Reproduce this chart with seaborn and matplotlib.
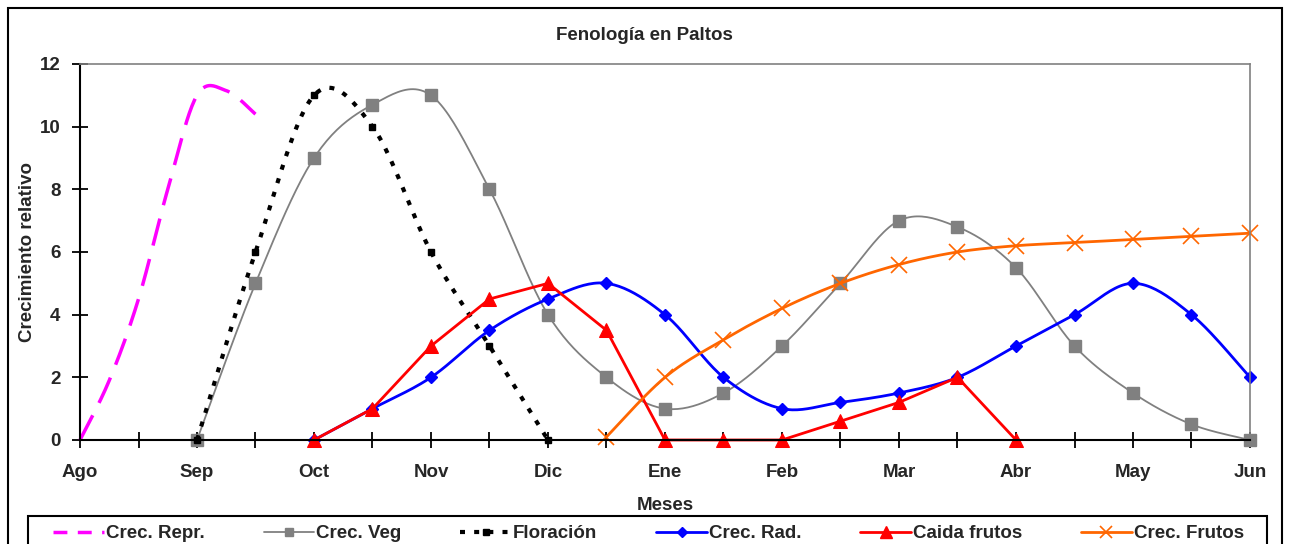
import numpy as np
import matplotlib
matplotlib.use("Agg")
import matplotlib.pyplot as plt
from matplotlib.lines import Line2D
from matplotlib.patches import Rectangle
import seaborn as sns

# month labels (x positions 0..10, half-month steps for the data)
meses = ["Ago", "Sep", "Oct", "Nov", "Dic", "Ene", "Feb", "Mar", "Abr", "May", "Jun"]

# data (x in months from Ago)
repr_x = [0, 0.25, 0.5, 0.75, 1.0, 1.25, 1.5]
repr_y = [0, 1.9, 4.5, 8.0, 11.0, 11.15, 10.4]

veg_x = [1, 1.5, 2, 2.5, 3, 3.5, 4, 4.5, 5, 5.5, 6, 6.5, 7, 7.5, 8, 8.5, 9, 9.5, 10]
veg_y = [0, 5, 9, 10.7, 11, 8, 4, 2, 1, 1.5, 3, 5, 7, 6.8, 5.5, 3, 1.5, 0.5, 0]

flor_x = [1, 1.5, 2, 2.5, 3, 3.5, 4]
flor_y = [0, 6, 11, 10, 6, 3, 0]

rad_x = [2, 2.5, 3, 3.5, 4, 4.5, 5, 5.5, 6, 6.5, 7, 7.5, 8, 8.5, 9, 9.5, 10]
rad_y = [0, 1, 2, 3.5, 4.5, 5, 4, 2, 1, 1.2, 1.5, 2, 3, 4, 5, 4, 2]

caida_x = [2, 2.5, 3, 3.5, 4, 4.5, 5, 5.5, 6, 6.5, 7, 7.5, 8]
caida_y = [0, 1, 3, 4.5, 5, 3.5, 0, 0, 0, 0.6, 1.2, 2, 0]

frutos_x = [4.5, 5, 5.5, 6, 6.5, 7, 7.5, 8, 8.5, 9, 9.5, 10]
frutos_y = [0.1, 2, 3.2, 4.2, 5, 5.6, 6, 6.2, 6.3, 6.4, 6.5, 6.6]


def smooth(x, y, n=24):
    # Excel-like smoothed line (Catmull-Rom as cubic Bezier)
    p = np.column_stack([x, y]).astype(float)
    out = [p[0]]
    for i in range(len(p) - 1):
        p0 = p[i - 1] if i > 0 else p[i]
        p1, p2 = p[i], p[i + 1]
        p3 = p[i + 2] if i + 2 < len(p) else p[i + 1]
        c1 = p1 + (p2 - p0) / 6
        c2 = p2 - (p3 - p1) / 6
        t = np.linspace(0, 1, n)[1:, None]
        seg = (1 - t) ** 3 * p1 + 3 * (1 - t) ** 2 * t * c1 + 3 * (1 - t) * t ** 2 * c2 + t ** 3 * p2
        out.extend(seg)
    out = np.array(out)
    return out[:, 0], out[:, 1]


sns.set_style("white")
plt.rcParams['font.family'] = ['Liberation Sans', 'DejaVu Sans']
plt.rcParams['font.weight'] = 'bold'
fs = 13.5

fig = plt.figure(figsize=(12.89, 5.44), dpi=100)
ax = fig.add_axes([80 / 1289, 104 / 544, 1170 / 1289, 376 / 544])

c_repr = '#FF00FF'
c_veg = '#808080'
c_flor = '#000000'
c_rad = '#0000FF'
c_caida = '#FF0000'
c_frutos = '#FF6600'

# Crec. Repr.
sx, sy = smooth(repr_x, repr_y)
sns.lineplot(x=sx, y=sy, ax=ax, color=c_repr, lw=2.5, sort=False, estimator=None, clip_on=False)
ax.lines[-1].set_dashes([8, 4])

# Crec. Veg
sx, sy = smooth(veg_x, veg_y)
sns.lineplot(x=sx, y=sy, ax=ax, color=c_veg, lw=1.3, sort=False, estimator=None, clip_on=False)
ax.plot(veg_x, veg_y, ls='none', marker='s', ms=8, color=c_veg, clip_on=False)

# Floración
sx, sy = smooth(flor_x, flor_y)
sns.lineplot(x=sx, y=sy, ax=ax, color=c_flor, lw=3, sort=False, estimator=None, clip_on=False)
ax.lines[-1].set_dashes([1.2, 2.2])
ax.plot(flor_x, flor_y, ls='none', marker='s', ms=5, color=c_flor, clip_on=False)

# Crec. Rad.
sx, sy = smooth(rad_x, rad_y)
sns.lineplot(x=sx, y=sy, ax=ax, color=c_rad, lw=2, sort=False, estimator=None, clip_on=False)
ax.plot(rad_x, rad_y, ls='none', marker='D', ms=6, color=c_rad, clip_on=False)

# Caida frutos (straight segments)
sns.lineplot(x=caida_x, y=caida_y, ax=ax, color=c_caida, lw=2, sort=False, estimator=None,
             marker='^', ms=10, mec=c_caida, clip_on=False)

# Crec. Frutos
sx, sy = smooth(frutos_x, frutos_y)
sns.lineplot(x=sx, y=sy, ax=ax, color=c_frutos, lw=2, sort=False, estimator=None, clip_on=False)
ax.plot(frutos_x, frutos_y, ls='none', marker='x', ms=11, mew=1.2, color=c_frutos, clip_on=False)

ax.set_xlim(0, 10)
ax.set_ylim(0, 12)
ticks_x = np.arange(0, 10.01, 0.5)
ax.set_xticks(ticks_x)
ax.set_xticklabels([meses[int(t)] if t == int(t) else "" for t in ticks_x])
ax.set_yticks(range(0, 13, 2))
ax.tick_params(axis='both', direction='inout', length=12, width=1.3, labelsize=fs,
               bottom=True, left=True, top=False, right=False, color='black')
ax.tick_params(axis='x', pad=11.5)
ax.tick_params(axis='y', pad=8)
for lbl in ax.get_xticklabels() + ax.get_yticklabels():
    lbl.set_fontweight('bold')

for s in ['left', 'bottom']:
    ax.spines[s].set_color('black')
    ax.spines[s].set_linewidth(1.5)
for s in ['top', 'right']:
    ax.spines[s].set_color('#808080')
    ax.spines[s].set_linewidth(1.2)

ax.set_ylabel("Crecimiento relativo", fontsize=fs, fontweight='bold', labelpad=3)
ax.set_xlabel("")
fig.text(665 / 1289, 1 - 505 / 544, "Meses", ha='center', va='center', fontsize=fs, fontweight='bold')
fig.text(644 / 1289, 1 - 36 / 544, "Fenología en Paltos", ha='center', va='center', fontsize=fs, fontweight='bold')

# legend
handles = [
    Line2D([], [], color=c_repr, lw=2.5, dashes=[4, 3]),
    Line2D([], [], color=c_veg, lw=1.3, marker='s', ms=6),
    Line2D([], [], color=c_flor, lw=3, dashes=[1.2, 2.2], marker='s', ms=4),
    Line2D([], [], color=c_rad, lw=2, marker='D', ms=5),
    Line2D([], [], color=c_caida, lw=2, marker='^', ms=8),
    Line2D([], [], color=c_frutos, lw=2, marker='x', ms=9, mew=1.2),
]
labels = ["Crec. Repr.", "Crec. Veg", "Floración", "Crec. Rad.", "Caida frutos", "Crec. Frutos"]
leg = fig.legend(handles, labels, ncol=6, loc='upper left',
                 bbox_to_anchor=(44 / 1289, 1 - 516 / 544, 1209 / 1289, 0), mode='expand',
                 frameon=False, handlelength=2.7, handletextpad=0.1,
                 borderpad=0.5, borderaxespad=0, prop={'size': fs, 'weight': 'bold'})

# legend box (cut by the image bottom) and outer chart border
fig.patches.append(Rectangle((28 / 1289, -0.2), 1239 / 1289, 0.2 + 1 - 516 / 544, transform=fig.transFigure,
                             fill=False, edgecolor='black', lw=1.5))
fig.patches.append(Rectangle((8 / 1289, -0.2), 1274 / 1289, 1.2 - 8 / 544, transform=fig.transFigure,
                             fill=False, edgecolor='black', lw=1.5))

fig.savefig("out.png", dpi=100)
